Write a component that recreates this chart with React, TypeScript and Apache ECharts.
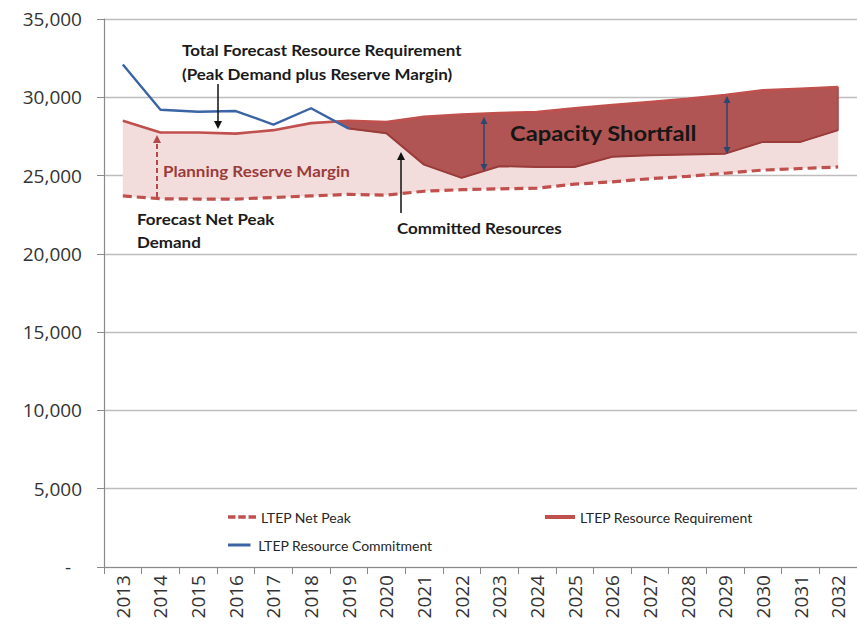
import React, { useEffect, useRef } from "react";
import * as echarts from "echarts";

const years = ["2013","2014","2015","2016","2017","2018","2019","2020","2021","2022","2023","2024","2025","2026","2027","2028","2029","2030","2031","2032"];
const netPeak = [23700, 23520, 23500, 23500, 23600, 23700, 23800, 23750, 24000, 24100, 24150, 24200, 24450, 24600, 24800, 24950, 25150, 25350, 25450, 25550];
const requirement = [28500, 27750, 27750, 27680, 27900, 28350, 28500, 28420, 28750, 28900, 29000, 29050, 29300, 29500, 29700, 29900, 30150, 30450, 30550, 30650];
const commitment = [32100, 29200, 29080, 29120, 28260, 29300, 28000, 27700, 25700, 24850, 25600, 25550, 25550, 26200, 26300, 26350, 26400, 27150, 27150, 27900];
const yTicks = { min: 0, max: 35000, interval: 5000 };

const RED = "#C0504D";
const DARK = "#B05553";
const PINK = "#F2DDDC";
const BLUE = "#3A64A3";
const FONT = "Open Sans";
const AFONT = "Lato";
const SX = 1.13;

export default function App() {
  const ref = useRef<HTMLDivElement>(null);
  useEffect(() => {
    const chart = echarts.init(ref.current!, null, { renderer: "svg" });
    const band = requirement.map((r, i) => r - netPeak[i]);
    const blueData = commitment.map((v, i) => (i <= 6 ? v : null));
    const edgeData = commitment.map((v, i) => (i >= 6 ? v : null));

    const arrowHead = (x: number, y: number, dir: number, fill: string, s = 4, h = 8) => ({
      type: "polygon",
      z: 100,
      shape: { points: [[x - s, y - dir * h], [x + s, y - dir * h], [x, y]] },
      style: { fill },
      silent: true,
    });
    const vline = (x: number, y1: number, y2: number, stroke: string, extra: any = {}) => ({
      type: "line",
      z: 100,
      silent: true,
      shape: { x1: x, y1, x2: x, y2 },
      style: { stroke, lineWidth: 1.5, ...extra },
    });
    const text = (t: string, x: number, y: number, extra: any = {}) => ({
      type: "text",
      x,
      y,
      z: 100,
      scaleX: SX,
      silent: true,
      style: {
        text: t,
        fill: "#1a1a1a",
        fontFamily: AFONT,
        fontWeight: "bold",
        fontSize: 15,
        verticalAlign: "middle",
        ...extra,
      },
    });
    const legendText = { fontFamily: AFONT, fontSize: 14, color: "#262626" };
    const dashIcon = "path://M0,0h8v4H0z M11,0h8v4h-8z M22,0h8v4h-8z";
    const solidIcon = "path://M0,0h30v4H0z";

    chart.setOption({
      animation: false,
      backgroundColor: "#ffffff",
      grid: { left: 104, top: 19, width: 762, bottom: 63 },
      legend: [
        { data: [{ name: "LTEP Net Peak", icon: dashIcon }], left: 223, top: 505, itemWidth: 28, itemHeight: 4, textStyle: legendText },
        { data: [{ name: "LTEP Resource Requirement", icon: solidIcon }], left: 540, top: 505, itemWidth: 30, itemHeight: 4, textStyle: legendText },
        { data: [{ name: "LTEP Resource Commitment", icon: solidIcon }], left: 223, top: 533, itemWidth: 28, itemHeight: 3, textStyle: legendText },
      ],
      xAxis: {
        type: "category",
        data: years,
        boundaryGap: true,
        axisLine: { lineStyle: { color: "#8a8a8a", width: 1.2 } },
        axisTick: { show: true, length: 7, lineStyle: { color: "#8a8a8a" } },
        axisLabel: { rotate: 90, fontFamily: FONT, fontSize: 19, color: "#333333", margin: 8, interval: 0 },
        splitLine: { show: false },
      },
      yAxis: {
        type: "value",
        ...yTicks,
        axisLine: { show: true, lineStyle: { color: "#8a8a8a", width: 1.2 } },
        axisTick: { show: true, length: 7, lineStyle: { color: "#8a8a8a" } },
        axisLabel: {
          fontFamily: FONT,
          fontSize: 19,
          color: "#333333",
          margin: 22,
          formatter: (v: number) => (v === 0 ? "-\u2007" : v.toLocaleString("en-US")),
        },
        splitLine: { lineStyle: { color: "#bdbdbd", width: 1.3 } },
      },
      series: [
        {
          name: "base",
          type: "line",
          stack: "band",
          data: netPeak,
          symbol: "none",
          lineStyle: { width: 0, opacity: 0 },
          silent: true,
          z: 1,
        },
        {
          name: "margin",
          type: "line",
          stack: "band",
          data: band,
          symbol: "none",
          lineStyle: { width: 0, opacity: 0 },
          areaStyle: { color: PINK, opacity: 1 },
          silent: true,
          z: 1,
        },
        {
          name: "shortfall",
          type: "custom",
          coordinateSystem: "cartesian2d",
          silent: true,
          z: 2,
          data: [[0, requirement[0]]],
          renderItem: (params: any, api: any) => {
            let start = -1;
            for (let i = 1; i < years.length; i++) {
              if (commitment[i] < requirement[i] && commitment[i - 1] >= requirement[i - 1]) {
                start = i;
                break;
              }
            }
            if (start < 0) return null;
            const a0 = api.coord([start - 1, requirement[start - 1]]);
            const a1 = api.coord([start, requirement[start]]);
            const b0 = api.coord([start - 1, commitment[start - 1]]);
            const b1 = api.coord([start, commitment[start]]);
            const d0 = b0[1] - a0[1];
            const d1 = b1[1] - a1[1];
            const t = d0 / (d0 - d1);
            const cross = [a0[0] + t * (a1[0] - a0[0]), a0[1] + t * (a1[1] - a0[1])];
            const top: number[][] = [];
            const bottom: number[][] = [];
            for (let i = start; i < years.length; i++) {
              top.push(api.coord([i, requirement[i]]));
              bottom.push(api.coord([i, commitment[i]]));
            }
            const pts = [cross, ...top, ...bottom.reverse()];
            return {
              type: "polygon",
              shape: { points: pts },
              style: { fill: DARK, stroke: "#9a3c3a", lineWidth: 1 },
            };
          },
        },
        {
          name: "LTEP Net Peak",
          type: "line",
          data: netPeak,
          symbol: "none",
          color: RED,
          lineStyle: { color: RED, width: 3.2, type: [9, 5] },
          z: 3,
        },
        {
          name: "edge",
          type: "line",
          data: edgeData,
          symbol: "none",
          lineStyle: { color: "#9a3c3a", width: 2 },
          silent: true,
          z: 3,
        },
        {
          name: "LTEP Resource Requirement",
          type: "line",
          data: requirement,
          symbol: "none",
          color: RED,
          lineStyle: { color: RED, width: 2.6 },
          z: 4,
        },
        {
          name: "LTEP Resource Commitment",
          type: "line",
          data: blueData,
          symbol: "none",
          color: BLUE,
          lineStyle: { color: BLUE, width: 2.4 },
          z: 5,
        },
      ],
      graphic: [
        text("Total Forecast Resource Requirement", 182, 50),
        text("(Peak Demand plus Reserve Margin)", 182, 74),
        vline(218, 84, 122, "#111"),
        arrowHead(218, 129, 1, "#111"),
        text("Planning Reserve Margin", 163, 171, { fill: "#9a3b3a" }),
        vline(157, 197, 143, "#b24a48", { lineWidth: 2, lineDash: [5, 3] }),
        arrowHead(157, 135, -1, "#b24a48"),
        text("Forecast Net Peak", 137, 219),
        text("Demand", 137, 242),
        text("Committed Resources", 397, 228),
        vline(401, 213, 160, "#111"),
        arrowHead(401, 152, -1, "#111"),
        text("Capacity Shortfall", 510, 133, { fontSize: 21, fill: "#161616" }),
        vline(484, 124, 164, "#2c4670"),
        arrowHead(484, 117, -1, "#2c4670", 3.5, 7),
        arrowHead(484, 171, 1, "#2c4670", 3.5, 7),
        vline(727, 103, 147, "#2c4670"),
        arrowHead(727, 96, -1, "#2c4670", 3.5, 7),
        arrowHead(727, 154, 1, "#2c4670", 3.5, 7),
      ],
    });
    return () => chart.dispose();
  }, []);
  return <div ref={ref} style={{ position: "fixed", left: 0, top: 0, width: 857, height: 630 }} />;
}
